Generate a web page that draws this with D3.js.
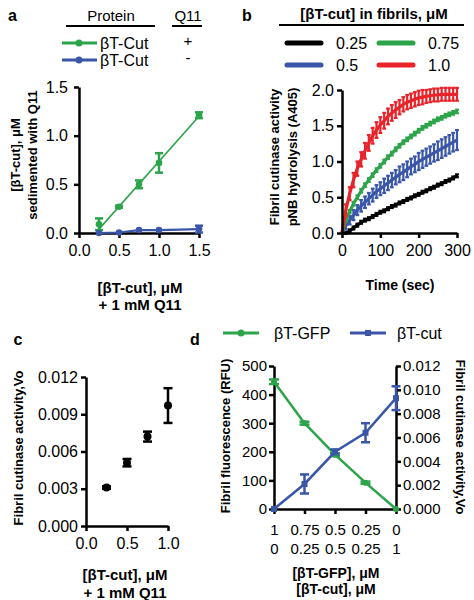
<!DOCTYPE html>
<html><head><meta charset="utf-8">
<script src="https://cdn.jsdelivr.net/npm/d3@7"></script>
<style>body{margin:0;background:#fff}svg{display:block}</style>
</head><body>
<svg id="c" width="474" height="600"></svg>
<script>
// ---------- Panel a ----------
const aX = [0.25, 0.5, 0.75, 1.0, 1.5];
const aWithQ11 = [0.09, 0.27, 0.50, 0.72, 1.21];
const aWithQ11Err = [0.06, 0.01, 0.04, 0.10, 0.03];
const aNoQ11 = [0.0, 0.005, 0.03, 0.03, 0.04];
const aNoQ11Err = [0, 0, 0, 0, 0.035];
const aFitX = [0.25, 1.5];
const aFitY = [0.04, 1.2];
const aTicks = [0.0, 0.5, 1.0, 1.5];

// ---------- Panel b ----------
const bTime = [0,10,20,30,40,50,60,70,80,90,100,110,120,130,140,150,160,170,180,190,200,210,220,230,240,250,260,270,280,290,300];
const bConc = ["0.25", "0.5", "0.75", "1.0"];
const b025 = [0,0,0.03,0.07,0.11,0.15,0.18,0.20,0.23,0.26,0.29,0.31,0.34,0.37,0.39,0.42,0.44,0.47,0.49,0.52,0.54,0.57,0.59,0.62,0.64,0.67,0.69,0.72,0.74,0.77,0.80];
const b025Err = [0,0.01,0.02,0.02,0.02,0.02,0.02,0.02,0.02,0.02,0.02,0.02,0.02,0.02,0.02,0.02,0.02,0.02,0.02,0.02,0.02,0.02,0.02,0.02,0.02,0.02,0.02,0.02,0.02,0.02,0.02];
const b05 = [0,0.10,0.18,0.25,0.32,0.38,0.43,0.48,0.53,0.58,0.62,0.66,0.70,0.74,0.78,0.82,0.85,0.89,0.93,0.96,1.00,1.03,1.06,1.09,1.12,1.15,1.18,1.21,1.24,1.27,1.30];
const b05Err = [0,0.05,0.06,0.07,0.07,0.08,0.08,0.08,0.09,0.09,0.09,0.10,0.10,0.10,0.10,0.11,0.11,0.11,0.11,0.11,0.12,0.12,0.12,0.12,0.12,0.13,0.13,0.13,0.13,0.13,0.14];
const b075 = [0,0.18,0.30,0.41,0.50,0.59,0.67,0.74,0.81,0.88,0.94,1.00,1.06,1.11,1.17,1.22,1.27,1.31,1.35,1.39,1.43,1.47,1.50,1.53,1.56,1.59,1.61,1.64,1.66,1.68,1.70];
const b075Err = [0,0.02,0.02,0.025,0.025,0.025,0.025,0.025,0.025,0.025,0.025,0.025,0.025,0.025,0.025,0.025,0.025,0.025,0.025,0.025,0.025,0.025,0.025,0.025,0.025,0.025,0.025,0.025,0.025,0.025,0.025];
const b10 = [0,0.32,0.55,0.74,0.90,1.03,1.15,1.26,1.36,1.44,1.51,1.57,1.63,1.68,1.72,1.76,1.80,1.83,1.85,1.87,1.89,1.90,1.91,1.92,1.93,1.93,1.94,1.94,1.94,1.94,1.94];
const b10Err = [0,0.08,0.09,0.10,0.10,0.10,0.11,0.11,0.11,0.11,0.11,0.11,0.11,0.11,0.11,0.10,0.10,0.10,0.10,0.10,0.10,0.10,0.09,0.09,0.09,0.09,0.09,0.09,0.09,0.09,0.09];
const bXTicks = [0, 100, 200, 300];
const bYTicks = [0.0, 0.5, 1.0, 1.5, 2.0];

// ---------- Panel c ----------
const cX = [0.25, 0.5, 0.75, 1.0];
const cVo = [0.0031, 0.0051, 0.0072, 0.0097];
const cVoErr = [0.0001, 0.0003, 0.0004, 0.0014];
const cXTicks = [0.0, 0.5, 1.0];
const cYTicks = [0.000, 0.003, 0.006, 0.009, 0.012];

// ---------- Panel d ----------
const dGFPConc = ["1", "0.75", "0.5", "0.25", "0"];
const dCutConc = ["0", "0.25", "0.5", "0.25", "1"];
const dGFP = [445, 300, 190, 92, 0];
const dGFPErr = [8, 5, 5, 4, 0];
const dCut = [0, 0.0021, 0.0048, 0.0064, 0.0093];
const dCutErr = [0, 0.0008, 0.0002, 0.0008, 0.0010];
const dLeftTicks = [0, 100, 200, 300, 400, 500];
const dRightTicks = [0.000, 0.002, 0.004, 0.006, 0.008, 0.010, 0.012];

const GREEN = "#2ca44a", BLUE = "#3a56a8", RED = "#e8242a", BLACK = "#000";
const FONT = "'Liberation Sans', Arial, Helvetica, sans-serif";
const svg = d3.select("#c").attr("font-family", FONT);

function styleAxis(g, fs) {
  g.select(".domain").attr("stroke-width", 2.5).attr("stroke", "#000");
  g.selectAll(".tick line").attr("stroke-width", 2.5).attr("stroke", "#000");
  g.selectAll(".tick text").attr("font-size", fs).attr("font-family", FONT).attr("fill", "#000");
}
function txt(x, y, s, opt = {}) {
  const t = svg.append("text").attr("x", x).attr("y", y).text(s)
    .attr("font-size", opt.fs || 15).attr("font-weight", opt.bold ? "bold" : "normal")
    .attr("text-anchor", opt.anchor || "middle").attr("dominant-baseline", "central").attr("fill", opt.fill || "#000");
  return t;
}
function rtxt(x, y, s, rot, fs) {
  svg.append("text").attr("transform", `translate(${x},${y}) rotate(${rot})`)
    .attr("text-anchor", "middle").attr("dominant-baseline", "central")
    .attr("font-size", fs || 13).attr("font-weight", "bold").text(s);
}
function errBars(g, xs, ys, es, xS, yS, capW, color, sw) {
  xs.forEach((xv, i) => {
    if (!es[i]) return;
    const x = xS(xv), y1 = yS(ys[i] - es[i]), y2 = yS(ys[i] + es[i]);
    g.append("line").attr("x1", x).attr("x2", x).attr("y1", y1).attr("y2", y2).attr("stroke", color).attr("stroke-width", sw);
    [y1, y2].forEach(y => g.append("line").attr("x1", x - capW / 2).attr("x2", x + capW / 2).attr("y1", y).attr("y2", y).attr("stroke", color).attr("stroke-width", sw));
  });
}

// ================= Panel a =================
{
  const x = d3.scaleLinear([0, 1.5], [79, 199]);
  const y = d3.scaleLinear([0, 1.5], [233, 87]);
  const g = svg.append("g");
  styleAxis(g.append("g").attr("transform", "translate(0,233)").call(d3.axisBottom(x).tickValues(aTicks).tickFormat(d3.format(".1f")).tickSize(5).tickSizeOuter(0).tickPadding(7)), 16);
  styleAxis(g.append("g").attr("transform", "translate(79,0)").call(d3.axisLeft(y).tickValues(aTicks).tickFormat(d3.format(".1f")).tickSize(5).tickSizeOuter(0).tickPadding(6)), 16);
  g.append("path").datum(aFitX.map((v, i) => [v, aFitY[i]])).attr("fill", "none").attr("stroke", GREEN).attr("stroke-width", 1.6)
    .attr("d", d3.line().x(d => x(d[0])).y(d => y(d[1])));
  errBars(g, aX, aWithQ11, aWithQ11Err, x, y, 8, GREEN, 2.5);
  g.selectAll(null).data(aX).join("circle").attr("cx", d => x(d)).attr("cy", (d, i) => y(aWithQ11[i])).attr("r", 3.3).attr("fill", GREEN);
  g.append("path").datum(aX.map((v, i) => [v, aNoQ11[i]])).attr("fill", "none").attr("stroke", BLUE).attr("stroke-width", 2.2)
    .attr("d", d3.line().x(d => x(d[0])).y(d => y(d[1])));
  errBars(g, aX, aNoQ11, aNoQ11Err, x, y, 8, BLUE, 2.5);
  g.selectAll(null).data(aX).join("circle").attr("cx", d => x(d)).attr("cy", (d, i) => y(aNoQ11[i])).attr("r", 3.3).attr("fill", BLUE);

  txt(8, 15, "a", { fs: 16, bold: true, anchor: "start" });
  txt(111, 15, "Protein", { fs: 15 });
  txt(188, 15, "Q11", { fs: 15 });
  svg.append("line").attr("x1", 66).attr("x2", 155).attr("y1", 26).attr("y2", 26).attr("stroke", "#000").attr("stroke-width", 2);
  svg.append("line").attr("x1", 172).attr("x2", 202).attr("y1", 26).attr("y2", 26).attr("stroke", "#000").attr("stroke-width", 2);
  [[GREEN, 43, "+"], [BLUE, 60, "-"]].forEach(([c, yy, s]) => {
    svg.append("line").attr("x1", 62).attr("x2", 97).attr("y1", yy).attr("y2", yy).attr("stroke", c).attr("stroke-width", 3);
    svg.append("circle").attr("cx", 79).attr("cy", yy).attr("r", 3.5).attr("fill", c);
    txt(100, yy, "βT-Cut", { fs: 16, anchor: "start" });
    txt(188, yy - 3, s, { fs: 15 });
  });
  rtxt(15, 155, "[βT-cut], μM", -90, 13);
  rtxt(32, 155, "sedimented with Q11", -90, 13);
  txt(140, 287, "[βT-cut], μM", { fs: 15, bold: true });
  txt(140, 304, "+ 1 mM Q11", { fs: 15, bold: true });
}

// ================= Panel b =================
{
  const x = d3.scaleLinear([0, 300], [342, 457]);
  const y = d3.scaleLinear([0, 2], [233, 90]);
  const g = svg.append("g");
  const series = [[b025, b025Err, BLACK], [b05, b05Err, BLUE], [b075, b075Err, GREEN], [b10, b10Err, RED]];
  series.forEach(([vals, errs, c]) => {
    errBars(g, bTime, vals, errs, x, y, 3.8, c, 2.2);
    g.append("path").datum(bTime.map((t, i) => [t, vals[i]])).attr("fill", "none").attr("stroke", c).attr("stroke-width", 3.2)
      .attr("d", d3.line().x(d => x(d[0])).y(d => y(d[1])));
  });
  styleAxis(g.append("g").attr("transform", "translate(0,233)").call(d3.axisBottom(x).tickValues(bXTicks).tickFormat(d3.format("d")).tickSize(5).tickSizeOuter(0).tickPadding(7)), 16);
  styleAxis(g.append("g").attr("transform", "translate(342,0)").call(d3.axisLeft(y).tickValues(bYTicks).tickFormat(d3.format(".1f")).tickSize(5).tickSizeOuter(0).tickPadding(3)), 16);

  txt(242, 15, "b", { fs: 16, bold: true, anchor: "start" });
  txt(374, 13, "[βT-cut] in fibrils, μM", { fs: 15, bold: true });
  svg.append("line").attr("x1", 279).attr("x2", 464).attr("y1", 25).attr("y2", 25).attr("stroke", "#000").attr("stroke-width", 2);
  const leg = [[BLACK, 285, 43, bConc[0]], [GREEN, 377, 43, bConc[2]], [BLUE, 285, 65, bConc[1]], [RED, 377, 65, bConc[3]]];
  leg.forEach(([c, x0, yy, s]) => {
    svg.append("line").attr("x1", x0 + 2).attr("x2", x0 + 36).attr("y1", yy).attr("y2", yy).attr("stroke", c).attr("stroke-width", 5).attr("stroke-linecap", "round");
    txt(x0 + 51, yy, s, { fs: 16, anchor: "start" });
  });
  rtxt(274, 157, "Fibril cutinase activity", -90, 13);
  rtxt(292, 157, "pNB hydrolysis (A405)", -90, 13);
  txt(400, 285, "Time (sec)", { fs: 14, bold: true });
}

// ================= Panel c =================
{
  const x = d3.scaleLinear([0, 1], [86, 168]);
  const y = d3.scaleLinear([0, 0.012], [526, 377]);
  const g = svg.append("g");
  styleAxis(g.append("g").attr("transform", "translate(0,526)").call(d3.axisBottom(x).tickValues(cXTicks).tickFormat(d3.format(".1f")).tickSize(5).tickSizeOuter(0).tickPadding(7)), 16);
  styleAxis(g.append("g").attr("transform", "translate(86,0)").call(d3.axisLeft(y).tickValues(cYTicks).tickFormat(d3.format(".3f")).tickSize(5).tickSizeOuter(0).tickPadding(3)), 16);
  errBars(g, cX, cVo, cVoErr, x, y, 9, BLACK, 2.5);
  g.selectAll(null).data(cX).join("circle").attr("cx", d => x(d)).attr("cy", (d, i) => y(cVo[i])).attr("r", 4).attr("fill", BLACK);
  txt(18, 339, "c", { fs: 16, bold: true });
  rtxt(18, 448, "Fibril cutinase activity,Vo", -90, 13);
  txt(125, 574, "[βT-cut], μM", { fs: 15, bold: true });
  txt(125, 592, "+ 1 mM Q11", { fs: 15, bold: true });
}

// ================= Panel d =================
{
  const idx = d3.range(dGFPConc.length);
  const x = d3.scalePoint(idx, [274, 396]);
  const yL = d3.scaleLinear([0, 500], [509, 366]);
  const yR = d3.scaleLinear([0, 0.012], [509, 366]);
  const g = svg.append("g");
  const xAx = g.append("g").attr("transform", "translate(0,509)").call(d3.axisBottom(x).tickSize(5).tickSizeOuter(0).tickPadding(7).tickFormat(""));
  styleAxis(xAx, 15);
  xAx.selectAll(".tick").each(function (d) {
    const t = d3.select(this);
    t.append("text").attr("y", 20).attr("text-anchor", "middle").attr("dominant-baseline", "central").attr("font-size", 15).attr("fill", "#000").text(dGFPConc[d]);
    t.append("text").attr("y", 39).attr("text-anchor", "middle").attr("dominant-baseline", "central").attr("font-size", 15).attr("fill", "#000").text(dCutConc[d]);
  });
  styleAxis(g.append("g").attr("transform", "translate(274,0)").call(d3.axisLeft(yL).tickValues(dLeftTicks).tickSize(5).tickSizeOuter(0).tickPadding(2)), 15);
  styleAxis(g.append("g").attr("transform", "translate(396,0)").call(d3.axisRight(yR).tickValues(dRightTicks).tickFormat(d3.format(".3f")).tickSize(5).tickSizeOuter(0).tickPadding(2)), 15);

  g.append("path").datum(idx).attr("fill", "none").attr("stroke", GREEN).attr("stroke-width", 2.5)
    .attr("d", d3.line().x(i => x(i)).y(i => yL(dGFP[i])));
  errBars(g, idx, dGFP, dGFPErr, x, yL, 10, GREEN, 2.5);
  g.selectAll(null).data(idx).join("circle").attr("cx", i => x(i)).attr("cy", i => yL(dGFP[i])).attr("r", 3).attr("fill", GREEN);

  g.append("path").datum(idx).attr("fill", "none").attr("stroke", BLUE).attr("stroke-width", 2.5)
    .attr("d", d3.line().x(i => x(i)).y(i => yR(dCut[i])));
  errBars(g, idx, dCut, dCutErr, x, yR, 9, BLUE, 2.5);
  g.selectAll(null).data(idx).join("rect").attr("x", i => x(i) - 3).attr("y", i => yR(dCut[i]) - 3).attr("width", 6).attr("height", 6).attr("fill", BLUE);

  txt(195, 339, "d", { fs: 16, bold: true });
  svg.append("line").attr("x1", 223).attr("x2", 259).attr("y1", 333).attr("y2", 333).attr("stroke", GREEN).attr("stroke-width", 3);
  svg.append("circle").attr("cx", 241).attr("cy", 333).attr("r", 3.5).attr("fill", GREEN);
  txt(274, 333, "βT-GFP", { fs: 16, anchor: "start" });
  svg.append("line").attr("x1", 350).attr("x2", 386).attr("y1", 333).attr("y2", 333).attr("stroke", BLUE).attr("stroke-width", 3);
  svg.append("rect").attr("x", 365).attr("y", 330).attr("width", 6).attr("height", 6).attr("fill", BLUE);
  txt(397, 333, "βT-cut", { fs: 16, anchor: "start" });

  rtxt(225, 436, "Fibril fluorescence (RFU)", -90, 13);
  rtxt(460, 437, "Fibril cutinase activity,Vo", 90, 13);
  txt(336, 573, "[βT-GFP], μM", { fs: 14, bold: true });
  txt(336, 589, "[βT-cut], μM", { fs: 14, bold: true });
}
</script>
</body></html>
